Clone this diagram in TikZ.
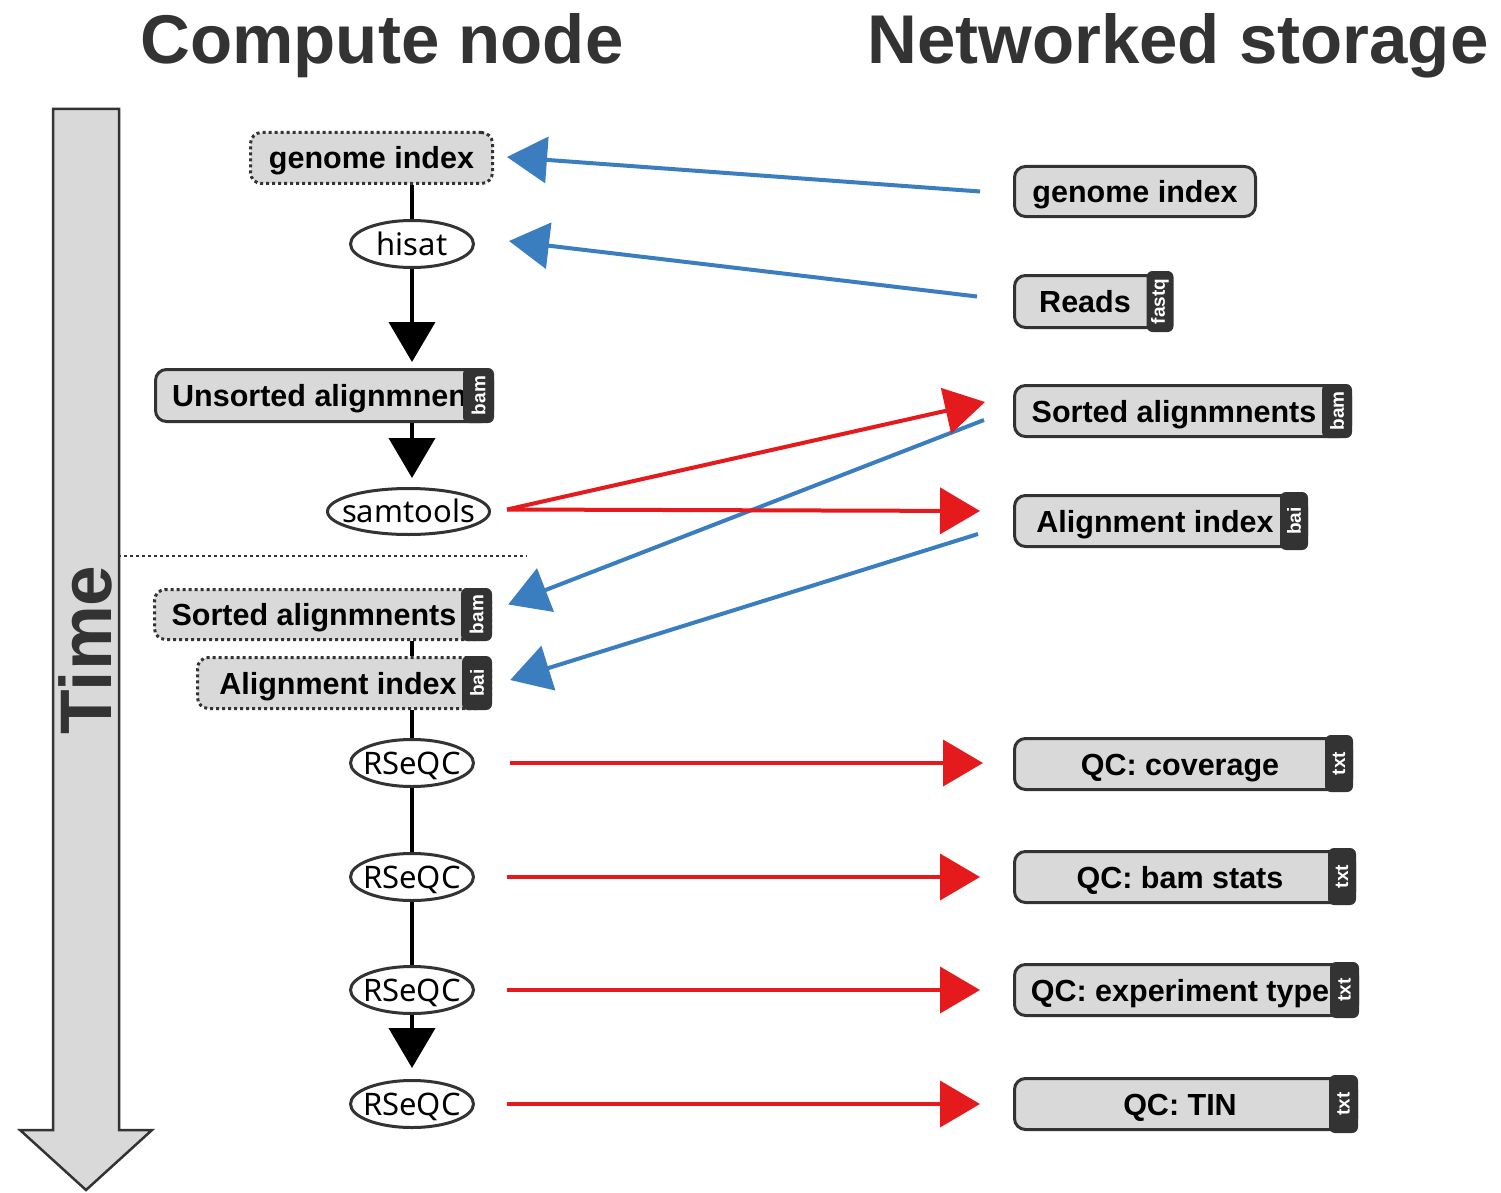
\documentclass[tikz,border=0pt]{standalone}
\usepackage{fontspec}
\setmainfont{Liberation Sans}
\newfontfamily\toolfont{Noto Sans}
\usetikzlibrary{arrows.meta,shapes.geometric,calc}
\definecolor{boxfill}{HTML}{D9D9D9}
\definecolor{boxline}{HTML}{333333}
\definecolor{tagfill}{HTML}{333333}
\definecolor{flowblue}{HTML}{3A7EBF}
\definecolor{flowred}{HTML}{E41A1C}

\begin{document}
\begin{tikzpicture}[x=1pt,y=-1pt,
  store/.style={draw=boxline, fill=boxfill, line width=3pt, rounded corners=11pt, inner sep=0pt},
  cache/.style={store, dash pattern=on 3pt off 3pt},
  lbl/.style={font=\bfseries\fontsize{30.5}{30.5}\selectfont, text height=22pt, text depth=0pt, inner sep=0pt},
  tool/.style={ellipse, draw=boxline, fill=white, line width=3pt, inner sep=0pt},
  tooltxt/.style={font=\toolfont\fontsize{31}{31}\selectfont, text height=22pt, text depth=0pt, inner sep=0pt},
  ftag/.style={fill=tagfill, rounded corners=6pt, text=white, rotate=90, inner sep=0pt,
    font=\bfseries\fontsize{19}{19}\selectfont},
  link/.style={line width=4pt, draw=black},
  linkarr/.style={link, -{Triangle[length=40pt,width=46pt]}},
  blueflow/.style={line width=4pt, draw=flowblue, fill=flowblue, -{Triangle[length=40pt,width=46pt]}},
  redflow/.style={line width=4pt, draw=flowred, fill=flowred, -{Triangle[length=40pt,width=46pt]}},
]
\useasboundingbox (0,0) rectangle (1501,1193);

% column headings
\node[anchor=base, text=boxline, font=\bfseries\fontsize{69}{69}\selectfont, inner sep=0pt]
  (hcompute) at (382,64) {Compute node};
\node[anchor=base, text=boxline, font=\bfseries\fontsize{69}{69}\selectfont, inner sep=0pt]
  (hstorage) at (1178,64) {Networked storage};

% time axis
\draw[draw=boxline, fill=boxfill, line width=2.5pt, line join=miter]
  (53,109) -- (119,109) -- (119,1130) -- (152,1130) -- (86,1190) -- (20,1130) -- (53,1130) -- cycle;
\node[rotate=90, text=boxline, font=\bfseries\fontsize{73}{73}\selectfont, inner sep=0pt,
  text height=52pt, text depth=0pt] (time) at (85,650) {Time};

% separator between alignment and QC stages
\draw[boxline, line width=2.5pt, dash pattern=on 2.5pt off 3.5pt] (118,556) -- (527,556);

% ---- compute node column ----
\node[cache, minimum width=242pt, minimum height=51pt] (lgen) at (371.5,158) {};
\node[lbl] (lgen-t) at (371.5,158) {genome index};

\node[tool, minimum width=123pt, minimum height=47pt] (lhisat) at (412,244) {};
\node[tooltxt] (lhisat-t) at (412,244) {hisat};

\node[store, minimum width=337pt, minimum height=52pt] (lunsort) at (324,395.5) {};
\node[lbl, anchor=west] (lunsort-t) at (172,395.5) {Unsorted alignmnents};
\node[ftag, minimum width=55pt, minimum height=31pt] (lunsort-f) at (478.5,395.5) {bam};

\node[tool, minimum width=162pt, minimum height=46pt] (lsam) at (408.5,511.5) {};
\node[tooltxt] (lsam-t) at (408.5,511.5) {samtools};

\node[cache, minimum width=336pt, minimum height=50pt] (lsort) at (322.5,614.5) {};
\node[lbl] (lsort-t) at (314,614.5) {Sorted alignmnents};
\node[ftag, minimum width=53pt, minimum height=31pt] (lsort-f) at (476.5,614.5) {bam};

\node[cache, minimum width=293pt, minimum height=51pt] (lidx) at (344,683) {};
\node[lbl] (lidx-t) at (338,683) {Alignment index};
\node[ftag, minimum width=54pt, minimum height=30pt] (lidx-f) at (477,683) {bai};

\foreach \i/\y in {1/763,2/877,3/990,4/1104}{
  \node[tool, minimum width=123pt, minimum height=47pt] (rs\i) at (412,\y) {};
  \node[tooltxt] (rs\i-t) at (412,\y) {RSeQC};
}

% ---- networked storage column ----
\node[store, minimum width=241pt, minimum height=50pt] (rgen) at (1135,191.5) {};
\node[lbl] (rgen-t) at (1135,191.5) {genome index};

\node[store, minimum width=144pt, minimum height=52pt] (rreads) at (1086.5,301.5) {};
\node[lbl] (rreads-t) at (1085,301.5) {Reads};
\node[ftag, minimum width=61pt, minimum height=27pt] (rreads-f) at (1160,301.5) {fastq};

\node[store, minimum width=336pt, minimum height=51pt] (rsort) at (1182.5,411) {};
\node[lbl] (rsort-t) at (1174,411) {Sorted alignmnents};
\node[ftag, minimum width=54pt, minimum height=30pt] (rsort-f) at (1337,411) {bam};

\node[store, minimum width=292pt, minimum height=51pt] (ridx) at (1160.5,521) {};
\node[lbl] (ridx-t) at (1155,521) {Alignment index};
\node[ftag, minimum width=58pt, minimum height=28pt] (ridx-f) at (1294,521) {bai};

\node[store, minimum width=337pt, minimum height=51pt] (rcov) at (1183,764) {};
\node[lbl] (rcov-t) at (1180,764) {QC: coverage};
\node[ftag, minimum width=57pt, minimum height=28pt] (rcov-f) at (1339,763.5) {txt};

\node[store, minimum width=340pt, minimum height=51pt] (rbam) at (1184.5,877) {};
\node[lbl] (rbam-t) at (1180,877) {QC: bam stats};
\node[ftag, minimum width=57pt, minimum height=28pt] (rbam-f) at (1342,876.5) {txt};

\node[store, minimum width=343pt, minimum height=51pt] (rexp) at (1186,990) {};
\node[lbl] (rexp-t) at (1180,990) {QC: experiment type};
\node[ftag, minimum width=56pt, minimum height=29pt] (rexp-f) at (1344.5,990) {txt};

\node[store, minimum width=342pt, minimum height=51pt] (rtin) at (1185.5,1104) {};
\node[lbl] (rtin-t) at (1180,1104) {QC: TIN};
\node[ftag, minimum width=58pt, minimum height=29pt] (rtin-f) at (1343.5,1104) {txt};

% ---- compute flow ----
\draw[link] (lhisat.north) -- (lhisat.north |- lgen.south);
\draw[linkarr, shorten >=6pt] (lhisat.south) -- (lhisat.south |- lunsort.north);
\draw[linkarr, shorten >=9pt] (lhisat.south |- lunsort.south) -- (lhisat.south |- lsam.north);
\draw[link] (lhisat.south |- lsort.south) -- (lhisat.south |- lidx.north);
\draw[link] (rs1.north |- lidx.south) -- (rs1.north);
\draw[link] (rs1) -- (rs2);
\draw[link] (rs2) -- (rs3);
\draw[linkarr, shorten >=11pt] (rs3.south) -- (rs4.north);

% ---- transfers from storage ----
\draw[blueflow] ([shift={(-33,0)}]rgen.west) -- ([shift={(13,-1)}]lgen.east);
\draw[blueflow] ([shift={(-36,-5)}]rreads.west) -- ([shift={(34,-3)}]lhisat.east);
\draw[blueflow] ([shift={(-29,9)}]rsort.west) -- ([shift={(16,-10)}]lsort-f.south);
\draw[blueflow] ([shift={(-35,13)}]ridx.west) -- ([shift={(18,-3)}]lidx-f.south);

% ---- transfers to storage ----
\draw[redflow] ([shift={(16,-2)}]lsam.east) -- ([shift={(-28,-9)}]rsort.west);
\draw[redflow] ([shift={(16,-2)}]lsam.east) -- ([shift={(-33,-10)}]ridx.west);
\draw[redflow] ([shift={(35,0)}]rs1.east) -- ([shift={(-30,-1)}]rcov.west);
\draw[redflow] ([shift={(32,0)}]rs2.east) -- ([shift={(-33,0)}]rbam.west);
\draw[redflow] ([shift={(32,0)}]rs3.east) -- ([shift={(-33,0)}]rexp.west);
\draw[redflow] ([shift={(32,0)}]rs4.east) -- ([shift={(-33,0)}]rtin.west);
\end{tikzpicture}
\end{document}
